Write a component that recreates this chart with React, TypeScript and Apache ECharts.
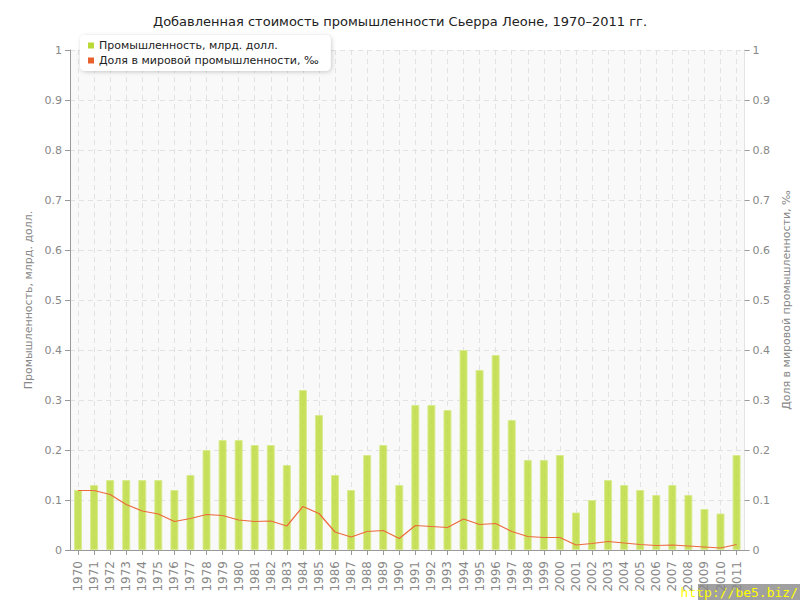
import React, { useEffect, useRef } from "react";
import * as echarts from "echarts";

const years = [
  "1970","1971","1972","1973","1974","1975","1976","1977","1978","1979",
  "1980","1981","1982","1983","1984","1985","1986","1987","1988","1989",
  "1990","1991","1992","1993","1994","1995","1996","1997","1998","1999",
  "2000","2001","2002","2003","2004","2005","2006","2007","2008","2009",
  "2010","2011",
];

const industry = [
  0.12, 0.13, 0.14, 0.14, 0.14, 0.14, 0.12, 0.15, 0.20, 0.22,
  0.22, 0.21, 0.21, 0.17, 0.32, 0.27, 0.15, 0.12, 0.19, 0.21,
  0.13, 0.29, 0.29, 0.28, 0.40, 0.36, 0.39, 0.26, 0.18, 0.18,
  0.19, 0.075, 0.10, 0.14, 0.13, 0.12, 0.11, 0.13, 0.11, 0.082,
  0.073, 0.19,
];

const worldShare = [
  0.119, 0.119, 0.111, 0.091, 0.078, 0.072, 0.057, 0.063, 0.071, 0.069,
  0.060, 0.057, 0.058, 0.048, 0.087, 0.073, 0.036, 0.026, 0.037, 0.039,
  0.023, 0.049, 0.047, 0.045, 0.062, 0.051, 0.053, 0.037, 0.027, 0.025,
  0.025, 0.010, 0.013, 0.017, 0.014, 0.011, 0.009, 0.010, 0.008, 0.006,
  0.004, 0.011,
];

const titleText = "Добавленная стоимость промышленности Сьерра Леоне, 1970–2011 гг.";
const seriesNames = ["Промышленность, млрд. долл.", "Доля в мировой промышленности, ‰"];

export default function App() {
  const ref = useRef<HTMLDivElement>(null);
  useEffect(() => {
    if (!ref.current) return;
    const chart = echarts.init(ref.current, null, { renderer: "svg" });
    const font = "DejaVu Sans";
    const axisLabelColor = "#888";
    const lineColor = "#ec6a3c";
    chart.setOption({
      animation: false,
      textStyle: { fontFamily: font },
      title: {
        text: titleText,
        left: "center",
        top: 10,
        textStyle: { fontFamily: font, fontSize: 13, fontWeight: "normal", color: "#222" },
      },
      legend: {
        orient: "vertical",
        left: 80,
        top: 35,
        padding: [5, 12, 5, 8],
        itemGap: 4,
        itemWidth: 6,
        itemHeight: 6,
        icon: "rect",
        backgroundColor: "#fff",
        borderRadius: 5,
        shadowBlur: 4,
        shadowColor: "rgba(0,0,0,0.2)",
        shadowOffsetX: 1,
        shadowOffsetY: 1,
        textStyle: { fontFamily: font, fontSize: 11, color: "#222" },
        data: [
          { name: seriesNames[0], itemStyle: { color: "#b8d936", borderWidth: 0 } },
          { name: seriesNames[1], itemStyle: { color: "#e8602c", borderWidth: 0 } },
        ],
      },
      grid: {
        left: 70,
        right: 50,
        top: 50,
        bottom: 50,
        show: true,
        backgroundColor: "#f9f9f9",
        borderWidth: 0,
      },
      xAxis: {
        type: "category",
        data: years,
        boundaryGap: true,
        axisLine: { show: true, lineStyle: { color: "#999" } },
        axisTick: { show: true, alignWithLabel: true, length: 5, lineStyle: { color: "#999" } },
        axisLabel: {
          rotate: 90,
          interval: 0,
          color: axisLabelColor,
          fontSize: 12,
          fontFamily: font,
          margin: 11,
        },
        splitLine: {
          show: true,
          alignWithLabel: true,
          lineStyle: { color: "#e2e2e2", type: [5, 4] },
        },
      },
      yAxis: [
        {
          type: "value",
          min: 0,
          max: 1,
          interval: 0.1,
          name: seriesNames[0],
          nameLocation: "middle",
          nameGap: 33,
          nameTextStyle: { color: axisLabelColor, fontSize: 11, fontFamily: font },
          axisLine: { show: true, lineStyle: { color: "#999" } },
          axisTick: { show: true, length: 5, lineStyle: { color: "#999" } },
          axisLabel: { color: axisLabelColor, fontSize: 11, fontFamily: font, margin: 8 },
          splitLine: { show: true, lineStyle: { color: "#e2e2e2", type: [5, 4] } },
        },
        {
          type: "value",
          min: 0,
          max: 1,
          interval: 0.1,
          name: seriesNames[1],
          nameLocation: "middle",
          nameGap: 30,
          nameTextStyle: { color: axisLabelColor, fontSize: 11, fontFamily: font },
          axisLine: { show: true, lineStyle: { color: "#e4e4e4" } },
          axisTick: { show: true, length: 5, lineStyle: { color: "#999" } },
          axisLabel: { color: axisLabelColor, fontSize: 11, fontFamily: font, margin: 8 },
          splitLine: { show: false },
        },
      ],
      series: [
        {
          name: seriesNames[0],
          type: "bar",
          data: industry,
          barWidth: 8,
          yAxisIndex: 0,
          itemStyle: {
            color: "rgba(188,220,58,0.82)",
            borderColor: "rgba(215,235,140,0.9)",
            borderWidth: 1,
          },
        },
        {
          name: seriesNames[1],
          type: "line",
          data: worldShare,
          yAxisIndex: 1,
          symbol: "none",
          lineStyle: { color: lineColor, width: 1.2 },
          itemStyle: { color: lineColor },
        },
      ],
      graphic: [
        {
          type: "rect",
          right: 0,
          bottom: 0,
          shape: { width: 102, height: 16 },
          style: { fill: "#a0a0a0" },
        },
        {
          type: "text",
          right: 2,
          bottom: 1,
          style: {
            text: "http://be5.biz/",
            fill: "#ffff00",
            font: "13px 'DejaVu Sans Mono'",
          },
        },
      ],
    });
    return () => chart.dispose();
  }, []);
  return <div ref={ref} style={{ width: 800, height: 600, position: "absolute", left: 0, top: 0 }} />;
}
